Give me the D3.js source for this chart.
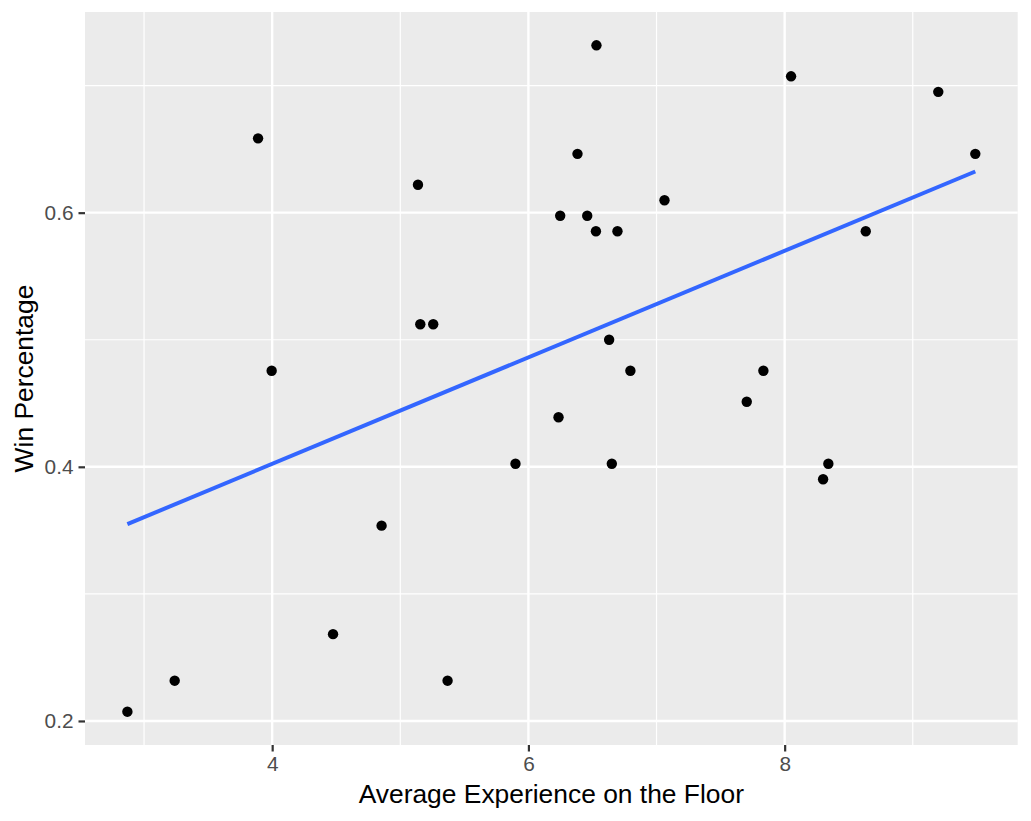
<!DOCTYPE html>
<html>
<head>
<meta charset="utf-8">
<script src="https://cdn.jsdelivr.net/npm/d3@7"></script>
<style>
  html, body { margin: 0; padding: 0; background: #fff; }
  svg { display: block; }
  text { font-family: "Liberation Sans", Arial, Helvetica, sans-serif; }
</style>
</head>
<body>
<svg id="chart" width="1031" height="821"></svg>
<script>
// Average experience on the floor (x) and win percentage (y), one entry per team
const experience = [2.870, 3.239, 3.890, 3.996, 4.475, 4.854, 5.138, 5.156, 5.257, 5.369,
                    5.899, 6.235, 6.248, 6.383, 6.459, 6.531, 6.527, 6.630, 6.651, 6.695,
                    6.796, 7.062, 7.704, 7.834, 8.050, 8.300, 8.341, 8.633, 9.199, 9.488];
const winPct = [0.2073, 0.2317, 0.6585, 0.4756, 0.2683, 0.3537, 0.6220, 0.5122, 0.5122, 0.2317,
                0.4024, 0.4390, 0.5976, 0.6463, 0.5976, 0.7317, 0.5854, 0.5000, 0.4024, 0.5854,
                0.4756, 0.6098, 0.4512, 0.4756, 0.7073, 0.3902, 0.4024, 0.5854, 0.6951, 0.6463];
const xMajor = [4, 6, 8];
const xMinor = [3, 5, 7, 9];
const yMajor = [0.2, 0.4, 0.6];
const yMinor = [0.3, 0.5, 0.7];
const xTitle = "Average Experience on the Floor";
const yTitle = "Win Percentage";

const W = 1031, H = 821;
const margin = {left: 85, right: 13.3, top: 12, bottom: 76};
const pw = W - margin.left - margin.right;
const ph = H - margin.top - margin.bottom;

function expand(ext) { const r = ext[1] - ext[0]; return [ext[0] - 0.05 * r, ext[1] + 0.05 * r]; }

const x = d3.scaleLinear().domain(expand(d3.extent(experience))).range([0, pw]);
const y = d3.scaleLinear().domain(expand(d3.extent(winPct))).range([ph, 0]);

const svg = d3.select("#chart");
const g = svg.append("g").attr("transform", `translate(${margin.left},${margin.top})`);

g.append("rect").attr("width", pw).attr("height", ph).attr("fill", "#EBEBEB");

// minor grid
g.selectAll(".xminor").data(xMinor).join("line")
  .attr("x1", d => x(d)).attr("x2", d => x(d)).attr("y1", 0).attr("y2", ph)
  .attr("stroke", "#fff").attr("stroke-width", 1.2);
g.selectAll(".yminor").data(yMinor).join("line")
  .attr("y1", d => y(d)).attr("y2", d => y(d)).attr("x1", 0).attr("x2", pw)
  .attr("stroke", "#fff").attr("stroke-width", 1.2);
// major grid
g.selectAll(".xmajor").data(xMajor).join("line")
  .attr("x1", d => x(d)).attr("x2", d => x(d)).attr("y1", 0).attr("y2", ph)
  .attr("stroke", "#fff").attr("stroke-width", 2.4);
g.selectAll(".ymajor").data(yMajor).join("line")
  .attr("y1", d => y(d)).attr("y2", d => y(d)).attr("x1", 0).attr("x2", pw)
  .attr("stroke", "#fff").attr("stroke-width", 2.4);

// axes
const xAxis = g.append("g").attr("transform", `translate(0,${ph})`)
  .call(d3.axisBottom(x).tickValues(xMajor).tickSize(6.5).tickPadding(5).tickFormat(d3.format("d")));
const yAxis = g.append("g")
  .call(d3.axisLeft(y).tickValues(yMajor).tickSize(6.5).tickPadding(5).tickFormat(d3.format(".1f")));
[xAxis, yAxis].forEach(a => {
  a.select(".domain").remove();
  a.selectAll(".tick line").attr("stroke", "#333333").attr("stroke-width", 2.2);
  a.selectAll(".tick text").attr("fill", "#4D4D4D").style("font-size", "20.8px")
    .style("font-family", '"Liberation Sans", Arial, sans-serif');
});

// regression line (ordinary least squares, as geom_smooth(method = "lm"))
const mx = d3.mean(experience), my = d3.mean(winPct);
let sxy = 0, sxx = 0;
experience.forEach((v, i) => { sxy += (v - mx) * (winPct[i] - my); sxx += (v - mx) * (v - mx); });
const slope = sxy / sxx, intercept = my - slope * mx;
const xr = d3.extent(experience);
const fit = xr.map(v => [v, intercept + slope * v]);
g.append("path").datum(fit)
  .attr("d", d3.line().x(d => x(d[0])).y(d => y(d[1])))
  .attr("stroke", "#3366FF").attr("stroke-width", 4).attr("fill", "none");

// points
g.selectAll(".pt").data(experience).join("circle")
  .attr("cx", d => x(d)).attr("cy", (d, i) => y(winPct[i])).attr("r", 5.2)
  .attr("fill", "#000");

// titles
svg.append("text").attr("x", margin.left + pw / 2).attr("y", 803)
  .attr("text-anchor", "middle").attr("fill", "#000").style("font-size", "26.4px").text(xTitle);
svg.append("text").attr("transform", `translate(33,${margin.top + ph / 2}) rotate(-90)`)
  .attr("text-anchor", "middle").attr("fill", "#000").style("font-size", "26.4px").text(yTitle);
</script>
</body>
</html>
